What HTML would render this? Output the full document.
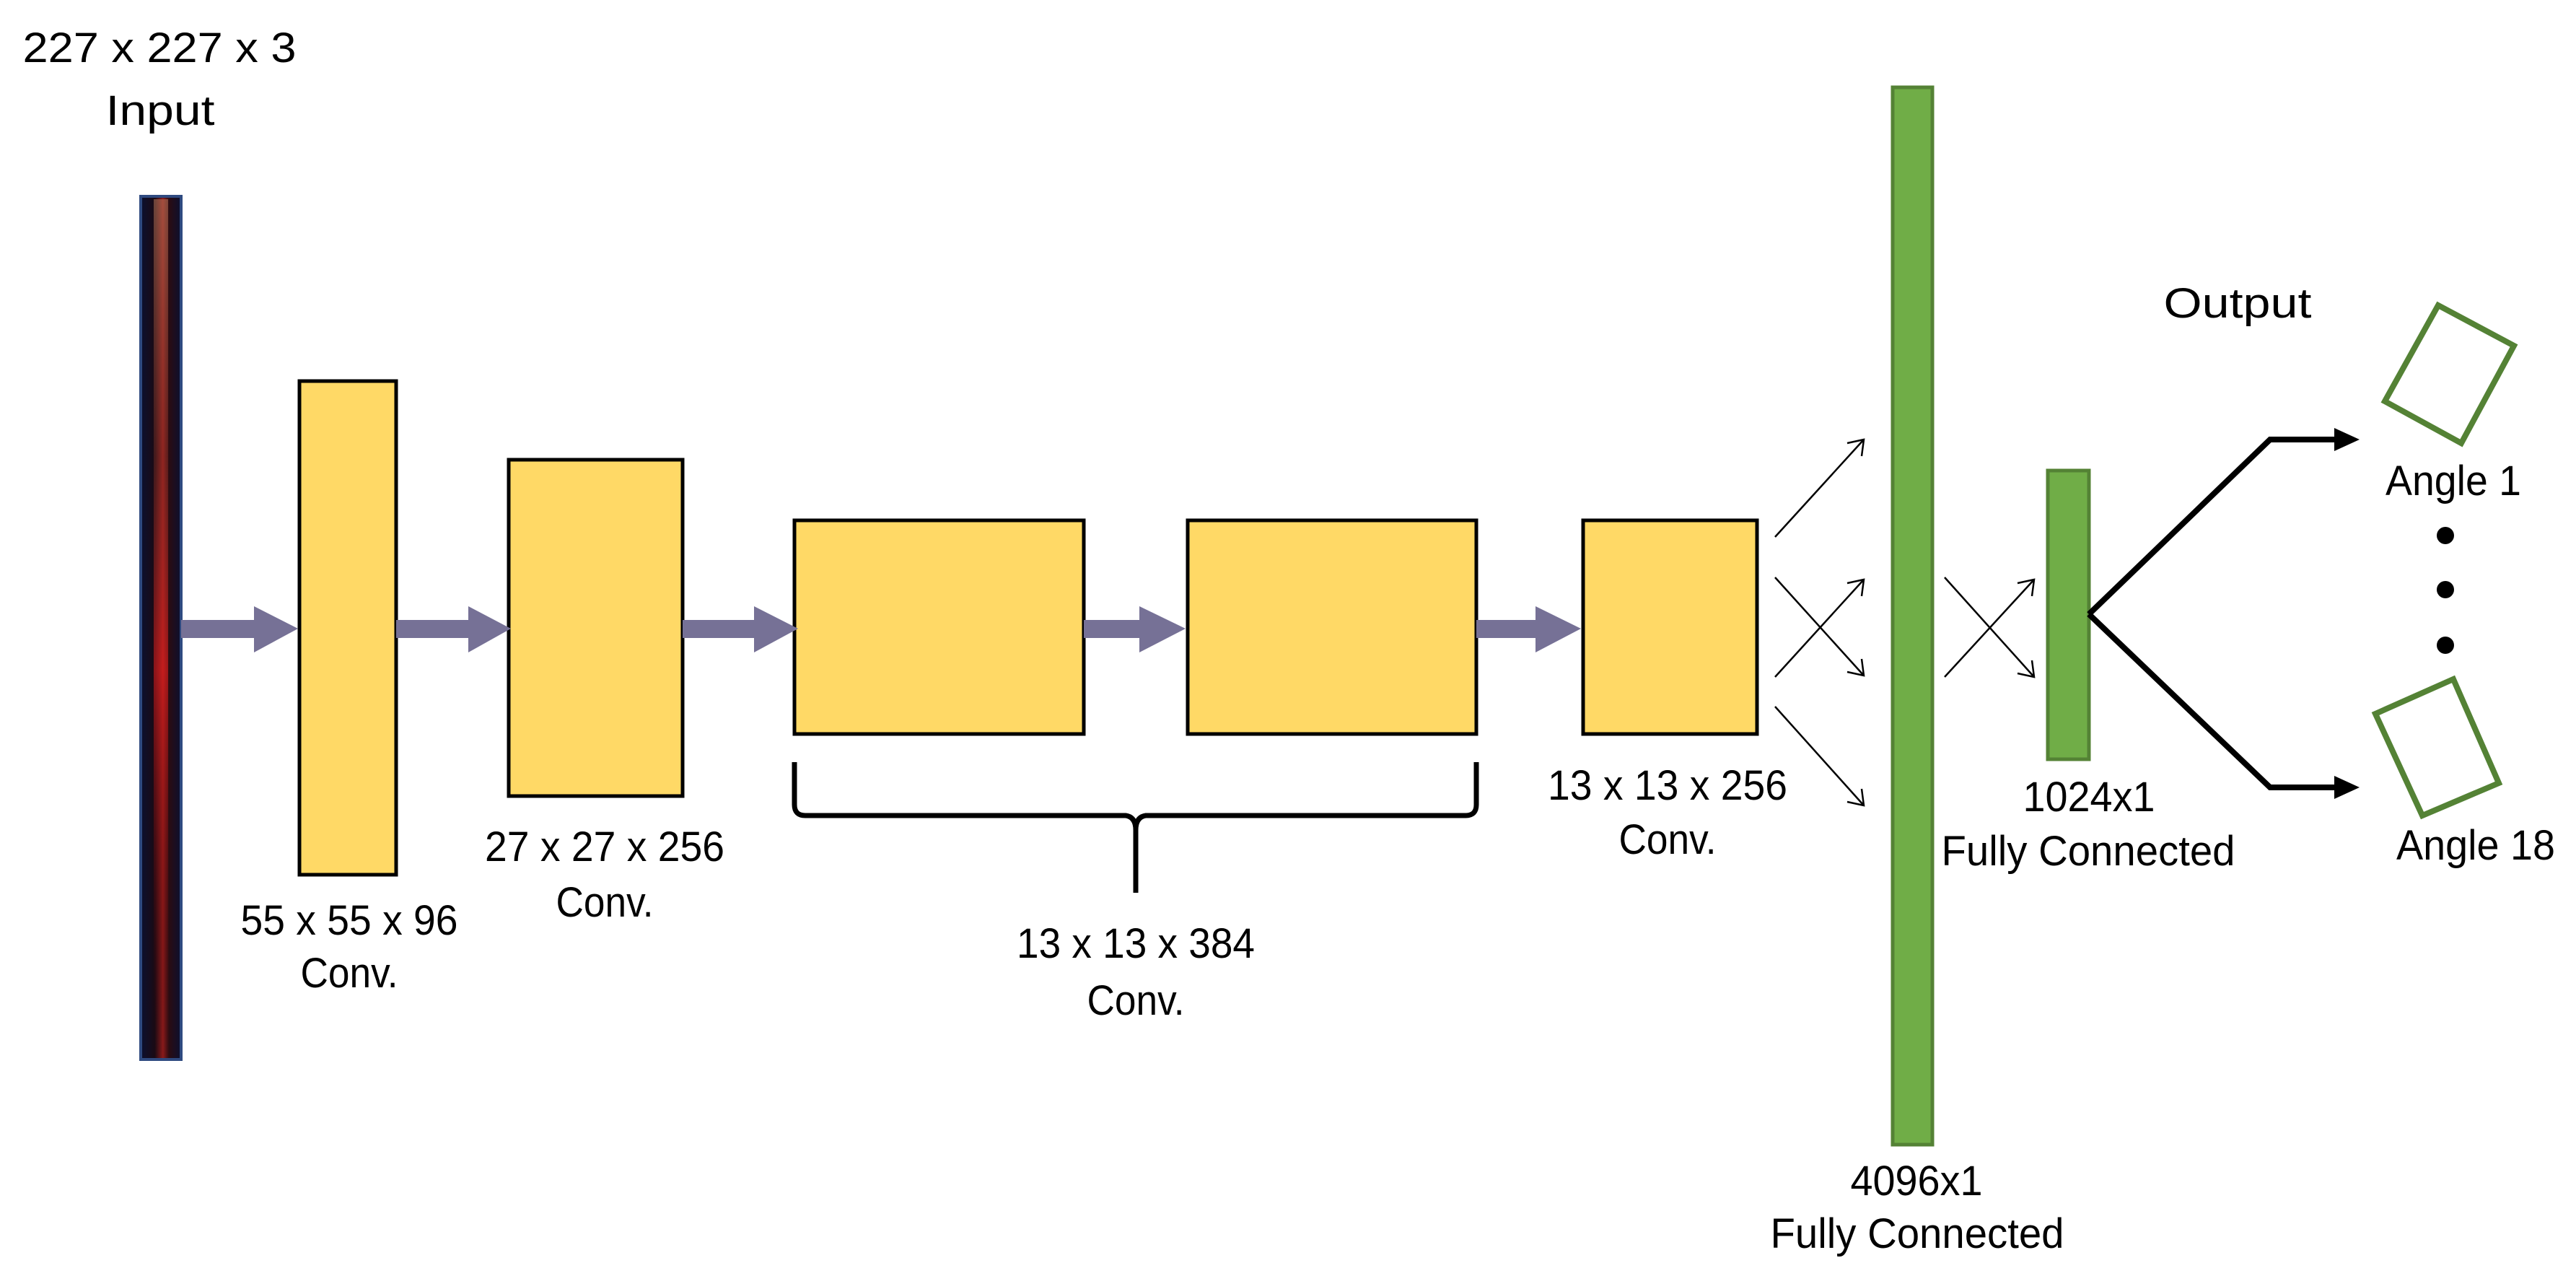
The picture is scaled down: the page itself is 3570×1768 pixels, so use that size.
<!DOCTYPE html>
<html><head><meta charset="utf-8"><style>html,body{margin:0;padding:0;background:#fff}svg{display:block}</style></head>
<body>
<svg width="3570" height="1768" viewBox="0 0 3570 1768" xmlns="http://www.w3.org/2000/svg" font-family="Liberation Sans, sans-serif" font-size="58" fill="#000">
<defs>
<linearGradient id="strip" x1="0" y1="0" x2="1" y2="0">
<stop offset="0" stop-color="#0b1030"/><stop offset="0.35" stop-color="#1a0a14"/><stop offset="0.55" stop-color="#8a1a1a"/><stop offset="0.7" stop-color="#2a0c12"/><stop offset="1" stop-color="#0b1030"/>
</linearGradient>
<linearGradient id="stripv" x1="0" y1="0" x2="0" y2="1">
<stop offset="0" stop-color="#c08060" stop-opacity="0.5"/><stop offset="0.3" stop-color="#a04030" stop-opacity="0.3"/><stop offset="0.55" stop-color="#ff2020" stop-opacity="0.5"/><stop offset="1" stop-color="#300" stop-opacity="0"/>
</linearGradient>
</defs>
<text x="221" y="86" text-anchor="middle" textLength="379" lengthAdjust="spacingAndGlyphs">227 x 227 x 3</text>
<text x="222" y="173" text-anchor="middle" textLength="151" lengthAdjust="spacingAndGlyphs">Input</text>
<rect x="195" y="272" width="56" height="1196" fill="url(#strip)" stroke="#2f4a80" stroke-width="4"/>
<rect x="213" y="276" width="20" height="1188" fill="url(#stripv)"/>
<g fill="#FFD966" stroke="#000" stroke-width="5">
<rect x="415" y="528" width="134" height="684"/>
<rect x="705" y="637" width="241" height="466"/>
<rect x="1101" y="721" width="401" height="296"/>
<rect x="1646" y="721" width="400" height="296"/>
<rect x="2194" y="721" width="241" height="296"/>
</g>
<g fill="#767196">
<rect x="251" y="859" width="102" height="25"/><polygon points="352,840 413,871 352,904"/>
<rect x="549" y="859" width="101" height="25"/><polygon points="649,840 708,871 649,904"/>
<rect x="946" y="859" width="100" height="25"/><polygon points="1045,840 1106,871 1045,904"/>
<rect x="1502" y="859" width="78" height="25"/><polygon points="1579,840 1643,871 1579,904"/>
<rect x="2046" y="859" width="83" height="25"/><polygon points="2128,840 2191,871 2128,904"/>
</g>
<path d="M1101,1056 L1101,1115 Q1101,1130 1116,1130 L1560,1130 Q1574,1132 1574,1150 L1574,1237 M1574,1150 Q1574,1132 1588,1130 L2031,1130 Q2046,1130 2046,1115 L2046,1056" fill="none" stroke="#000" stroke-width="7"/>
<g text-anchor="middle" lengthAdjust="spacingAndGlyphs">
<text x="484" y="1295" textLength="301" lengthAdjust="spacingAndGlyphs">55 x 55 x 96</text>
<text x="484" y="1368" textLength="135" lengthAdjust="spacingAndGlyphs">Conv.</text>
<text x="838" y="1193" textLength="332" lengthAdjust="spacingAndGlyphs">27 x 27 x 256</text>
<text x="838" y="1270" textLength="135" lengthAdjust="spacingAndGlyphs">Conv.</text>
<text x="1574" y="1327" textLength="330" lengthAdjust="spacingAndGlyphs">13 x 13 x 384</text>
<text x="1574" y="1406" textLength="135" lengthAdjust="spacingAndGlyphs">Conv.</text>
<text x="2311" y="1108" textLength="332" lengthAdjust="spacingAndGlyphs">13 x 13 x 256</text>
<text x="2311" y="1183" textLength="135" lengthAdjust="spacingAndGlyphs">Conv.</text>
<text x="2656" y="1656" textLength="183" lengthAdjust="spacingAndGlyphs">4096x1</text>
<text x="2657" y="1729" textLength="407" lengthAdjust="spacingAndGlyphs">Fully Connected</text>
<text x="2895" y="1124" textLength="183" lengthAdjust="spacingAndGlyphs">1024x1</text>
<text x="2894" y="1199" textLength="407" lengthAdjust="spacingAndGlyphs">Fully Connected</text>
<text x="3101" y="440" textLength="205" lengthAdjust="spacingAndGlyphs">Output</text>
<text x="3400" y="686" textLength="188" lengthAdjust="spacingAndGlyphs">Angle 1</text>
<text x="3431" y="1191" textLength="220" lengthAdjust="spacingAndGlyphs">Angle 18</text>
</g>
<g fill="#70AD47" stroke="#548235" stroke-width="5">
<rect x="2623" y="121" width="55" height="1465"/>
<rect x="2838" y="652" width="57" height="400"/>
</g>
<g stroke="#000" stroke-width="2.5" fill="none">
<line x1="2460" y1="744" x2="2583" y2="609"/><polyline points="2560,614 2583,609 2580,632"/>
<line x1="2460" y1="800" x2="2583" y2="936"/><polyline points="2580,913 2583,936 2560,931"/>
<line x1="2460" y1="938" x2="2583" y2="803"/><polyline points="2560,808 2583,803 2580,826"/>
<line x1="2460" y1="979" x2="2583" y2="1116"/><polyline points="2580,1093 2583,1116 2560,1111"/>
<line x1="2695" y1="800" x2="2819" y2="938"/><polyline points="2816,915 2819,938 2796,933"/>
<line x1="2695" y1="938" x2="2819" y2="803"/><polyline points="2796,808 2819,803 2816,826"/>
</g>
<g stroke="#000" stroke-width="8" fill="none">
<polyline points="2895,851 3146,609 3240,609"/>
<polyline points="2895,851 3146,1091 3240,1091"/>
</g>
<polygon points="3235,593 3270,609 3235,625" fill="#000"/>
<polygon points="3235,1075 3270,1091 3235,1107" fill="#000"/>
<g fill="none" stroke="#548235" stroke-width="8">
<polygon points="3379,423 3484,479 3411,614 3305,556"/>
<polygon points="3292,989 3400,941 3463,1085 3357,1130"/>
</g>
<circle cx="3389" cy="742" r="12"/>
<circle cx="3389" cy="817" r="12"/>
<circle cx="3389" cy="894" r="12"/>
</svg>
</body></html>
